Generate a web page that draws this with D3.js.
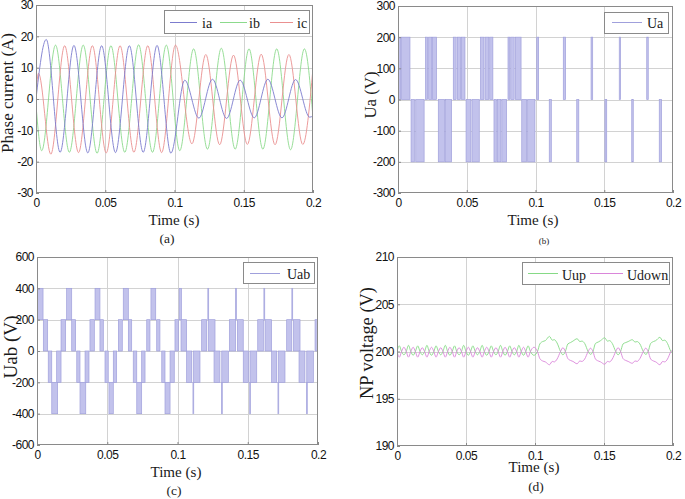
<!DOCTYPE html>
<html><head><meta charset="utf-8">
<script src="https://cdn.jsdelivr.net/npm/d3@7"></script>
<style>
body{margin:0;background:#fff}svg{display:block}
.sans{font-family:"Liberation Sans",Arial,Helvetica,sans-serif}
.serif{font-family:"Liberation Serif","Times New Roman",Times,serif}
</style>
</head><body>
<svg id="c" width="685" height="499"></svg>
<script>
// ---------- data (time in ms) ----------
const xTicks = [0, 50, 100, 150, 200];
const xTickLabels = ["0", "0.05", "0.1", "0.15", "0.2"];
const yTicksA = [-30, -20, -10, 0, 10, 20, 30];
const yTicksB = [-300, -200, -100, 0, 100, 200, 300];
const yTicksC = [-600, -400, -200, 0, 200, 400, 600];
const yTicksD = [190, 195, 200, 205, 210];

// phase currents: [t(ms), A] at start, peaks, troughs, end
const ia = [[0,0],[7.4,19],[17.4,-17],[27.4,17.1],[37.4,-17.2],[47.4,17],[57.4,-17.1],[67.4,17],[77.4,-17],[87.4,17.1],[97.4,-17.3],
  [107.4,6],[117.6,-6.1],[127.4,6.3],[137.6,-6.2],[147.4,6],[157.6,-6],[167.4,6.3],[177.6,-6],[187.4,6.2],[197.6,-5.8],[200,-5.4]];
const ib = [[0,-2],[4.1,-16.5],[14.1,17.2],[24.1,-17],[34.1,17.2],[44.1,-17.3],[54.1,17],[64.1,-17],[74.1,17.3],[84.1,-17],[94.1,17.2],
  [103.8,-16.5],[113.8,16],[123.8,-16],[133.8,16.2],[143.8,-16],[153.8,16],[163.8,-16],[173.8,16],[183.8,-16.2],[193.8,16],[200,-5.9]];
const ic = [[0,2],[1.8,8.2],[10.7,-17.6],[20.7,17],[30.7,-17.1],[40.7,17],[50.7,-17.2],[60.7,17],[70.7,-17],[80.7,17],[90.7,-17.1],[100.7,17.2],
  [112.6,-14.3],[122.6,14.2],[132.6,-14.6],[142.6,14],[152.6,-14.5],[162.6,14.3],[172.6,-14.6],[182.6,14.2],[192.6,-14.5],[200,9.9]];

// phase voltage Ua pulses: [start ms, end ms, level V]
const uaPulses = [
  [0,1.9,200],[2.6,8.7,200],[20,21.5,200],[22.3,24.5,200],[25,28,200],
  [40.2,42.3,200],[43.2,45.5,200],[46.1,48.7,200],[60,62.5,200],[63.3,66,200],[66.7,69,200],
  [80,81.3,200],[82,84.5,200],[85.4,89.5,200],
  [100.9,102.3,200],[120.2,121.9,200],[140.4,141.6,200],[160.9,161.9,200],[180.9,182,200],
  [9.5,11.9,-200],[12.9,19,-200],[29.3,33.8,-200],[34.6,39,-200],[49.5,53,-200],[53.8,59.1,-200],
  [69.8,71.5,-200],[72.3,74.8,-200],[75.5,79,-200],[90,93.5,-200],[94.3,99.6,-200],
  [110,111.5,-200],[130,131.5,-200],[150.5,151.8,-200],[170,171.1,-200],[190,191.7,-200]
];

// line voltage Uab switching bands: [start ms, end ms, low V, high V]
const uabBands = [
  [0.3,4.3,200,400],[21.1,24.7,200,400],[41.3,44.8,200,400],[61.4,65,200,400],[81.1,84.5,200,400],
  [101.2,102.8,200,400],[121.6,122.2,200,400],[141.3,141.9,200,400],[161.5,162.1,200,400],[181.4,182,200,400],
  [4.5,7.6,0,200],[17.1,20.4,0,200],[24.7,27.5,0,200],[37.7,40.8,0,200],[44.8,47.2,0,200],[57.9,60.7,0,200],
  [65,67.4,0,200],[78.1,80.4,0,200],[85.2,87.5,0,200],[98.2,100.6,0,200],[102.5,106.5,0,200],[117.2,120.8,0,200],
  [121.9,126.7,0,200],[136.9,141.4,0,200],[142.6,146.8,0,200],[157.1,161.1,0,200],[162.3,167,0,200],
  [177.7,181.3,0,200],[182.4,187.2,0,200],[197.9,200,0,200],
  [8,10.5,-200,0],[14,17.1,-200,0],[28.3,30.6,-200,0],[34.2,37,-200,0],[48.4,50.7,-200,0],[54.3,56.7,-200,0],
  [68.5,71,-200,0],[74.5,76.9,-200,0],[88.8,91.1,-200,0],[94.7,97.7,-200,0],[106.5,110.1,-200,0],[111.2,116,-200,0],
  [126,130.2,-200,0],[131.5,136.2,-200,0],[146.8,150.4,-200,0],[151.6,156.4,-200,0],[167,170.6,-200,0],
  [171.7,176.5,-200,0],[186.5,190.7,-200,0],[192,196.7,-200,0],
  [10.5,14.7,-400,-200],[30.6,34.7,-400,-200],[51.2,54.3,-400,-200],[71,74.5,-400,-200],[91.1,94.7,-400,-200],
  [111,111.5,-400,-200],[131.3,131.8,-400,-200],[151.4,151.9,-400,-200],[171.5,172,-400,-200],[191.8,192.3,-400,-200]
];

// neutral-point capacitor voltages: [t ms, V]
const uup = [[0,200],[1.7,200.6],[3.3,200],[5,199.65],[6.7,200],[8.3,200.65],[10,200],[11.7,199.6],[13.3,200],[15,200.6],[16.7,200],
  [18.3,199.65],[20,200],[21.7,200.65],[23.3,200],[25,199.6],[26.7,200],[28.3,200.6],[30,200],[31.7,199.65],[33.3,200],[35,200.65],
  [36.7,200],[38.3,199.6],[40,200],[41.7,200.6],[43.3,200],[45,199.65],[46.7,200],[48.3,200.65],[50,200],[51.7,199.6],[53.3,200],
  [55,200.6],[56.7,200],[58.3,199.65],[60,200],[61.7,200.65],[63.3,200],[65,199.6],[66.7,200],[68.3,200.6],[70,200],[71.7,199.65],
  [73.3,200],[75,200.65],[76.7,200],[78.3,199.6],[80,200],[81.7,200.6],[83.3,200],[85,199.65],[86.7,200],[88.3,200.65],[90,200],
  [91.7,199.6],[93.3,200],[95,200.6],[96.7,200],[99.2,199.6],[101.8,200],
  [103.5,200.8],[105.5,201.05],[107.5,201.15],[110.5,201.6],[112.5,201.2],[114,201.25],[116,200.9],[118.5,200],[120.2,199.65],[122,200],
  [123.8,200.8],[125.8,200.95],[127.5,201.1],[130.5,201.35],[132.5,201.05],[134,201.1],[136,200.85],[138.5,200],[140.2,199.7],[142,200],
  [143.8,200.85],[145.8,201.0],[147.5,201.15],[150.5,201.45],[152.5,201.1],[154,201.15],[156,200.85],[158.5,200],[160.2,199.65],[162,200],
  [163.8,200.8],[165.8,200.95],[167.5,201.05],[170.5,201.25],[172.5,201.0],[174,201.05],[176,200.8],[178.5,200],[180.2,199.7],[182,200],
  [183.8,200.85],[185.8,201.05],[187.5,201.15],[190.5,201.5],[192.5,201.15],[194,201.2],[196,200.85],[198.5,200],[200,199.8]];
const udown = [[0,200],[1.7,199.4],[3.3,200],[5,200.45],[6.7,200],[8.3,199.4],[10,200],[11.7,200.45],[13.3,200],[15,199.4],[16.7,200],
  [18.3,200.4],[20,200],[21.7,199.4],[23.3,200],[25,200.45],[26.7,200],[28.3,199.4],[30,200],[31.7,200.4],[33.3,200],[35,199.4],
  [36.7,200],[38.3,200.45],[40,200],[41.7,199.4],[43.3,200],[45,200.4],[46.7,200],[48.3,199.4],[50,200],[51.7,200.45],[53.3,200],
  [55,199.4],[56.7,200],[58.3,200.4],[60,200],[61.7,199.4],[63.3,200],[65,200.45],[66.7,200],[68.3,199.4],[70,200],[71.7,200.4],
  [73.3,200],[75,199.4],[76.7,200],[78.3,200.45],[80,200],[81.7,199.4],[83.3,200],[85,200.4],[86.7,200],[88.3,199.4],[90,200],
  [91.7,200.45],[93.3,200],[95,199.4],[96.7,200],[99.2,200.45],[101.8,200],
  [103.5,199.25],[105.5,199.0],[107.5,198.9],[110.5,198.6],[112.5,198.95],[114,198.9],[116,199.2],[118.5,200],[120.2,200.4],[122,200],
  [123.8,199.25],[125.8,199.05],[127.5,198.95],[130.5,198.7],[132.5,199.0],[134,198.95],[136,199.2],[138.5,200],[140.2,200.35],[142,200],
  [143.8,199.2],[145.8,199.0],[147.5,198.9],[150.5,198.65],[152.5,198.95],[154,198.9],[156,199.2],[158.5,200],[160.2,200.4],[162,200],
  [163.8,199.25],[165.8,199.05],[167.5,198.95],[170.5,198.75],[172.5,199.0],[174,198.95],[176,199.25],[178.5,200],[180.2,200.35],[182,200],
  [183.8,199.2],[185.8,199.0],[187.5,198.9],[190.5,198.6],[192.5,198.95],[194,198.9],[196,199.2],[198.5,200],[200,200.2]];

// ---------- drawing ----------
const svg = d3.select("#c");
let clipId = 0;

function label(cls, x, y, txt, fs, len, rot) {
  const t = svg.append("text").attr("class", cls).attr("text-anchor", "middle")
    .style("font-size", fs + "px").attr("fill", "#1a1a1a").text(txt);
  if (rot) t.attr("transform", `translate(${x},${y}) rotate(-90)`); else t.attr("x", x).attr("y", y);
  if (len) t.attr("textLength", len).attr("lengthAdjust", "spacingAndGlyphs");
  return t;
}

function panel(o) {
  const x = d3.scaleLinear().domain([0, 200]).range([o.l, o.r]);
  const y = d3.scaleLinear().domain(o.yd).range([o.b, o.t]);
  const g = svg.append("g");
  g.append("rect").attr("x", o.l).attr("y", o.t).attr("width", o.r - o.l).attr("height", o.b - o.t).attr("fill", "#fff");
  g.selectAll(null).data(xTicks.slice(1, -1)).join("line")
    .attr("x1", d => Math.round(x(d)) + 0.5).attr("x2", d => Math.round(x(d)) + 0.5).attr("y1", o.t).attr("y2", o.b)
    .attr("stroke", "#d2d2d2").attr("stroke-width", 1);
  g.selectAll(null).data(o.yt.slice(1, -1)).join("line")
    .attr("y1", d => Math.round(y(d)) + 0.5).attr("y2", d => Math.round(y(d)) + 0.5).attr("x1", o.l).attr("x2", o.r)
    .attr("stroke", "#d2d2d2").attr("stroke-width", 1);
  const id = "clip" + (clipId++);
  svg.append("clipPath").attr("id", id).append("rect")
    .attr("x", o.l).attr("y", o.t).attr("width", o.r - o.l).attr("height", o.b - o.t);
  const plot = g.append("g").attr("clip-path", `url(#${id})`);
  const frame = g.append("g");
  const ax = frame.append("g").attr("transform", `translate(0,${o.b})`)
    .call(d3.axisBottom(x).tickValues(xTicks).tickFormat((d, i) => xTickLabels[i]).tickSizeInner(-3).tickSizeOuter(0).tickPadding(5));
  const ay = frame.append("g").attr("transform", `translate(${o.l},0)`)
    .call(d3.axisLeft(y).tickValues(o.yt).tickFormat(d => String(d)).tickSizeInner(-3).tickSizeOuter(0).tickPadding(o.yPad || 3));
  [ax, ay].forEach(a => {
    a.attr("font-family", null).attr("font-size", null);
    a.select(".domain").remove();
    a.selectAll(".tick line").attr("stroke", "#888");
    a.selectAll("text").attr("class", "sans").style("font-size", "12px").style("letter-spacing", "-0.5px").attr("fill", "#111");
  });
  frame.append("rect").attr("x", o.l + 0.5).attr("y", o.t + 0.5).attr("width", o.r - o.l - 1).attr("height", o.b - o.t - 1)
    .attr("fill", "none").attr("stroke", "#8a8a8a");
  label("serif", o.ylx, o.yly, o.ylabel, o.ylfs, o.yllen, true);
  label("serif", o.xlx, o.xly, "Time (s)", 15, 51, false);
  label("serif", o.cx, o.cy, o.cap, o.cfs, null, false);
  return { x, y, g, plot, frame };
}

function legend(box, items) {
  const lg = svg.append("g");
  lg.append("rect").attr("x", box[0] + 0.5).attr("y", box[1] + 0.5).attr("width", box[2]).attr("height", box[3])
    .attr("fill", "#fff").attr("stroke", "#8a8a8a");
  items.forEach(it => {
    lg.append("line").attr("x1", it.x1).attr("x2", it.x2).attr("y1", it.ly + 0.5).attr("y2", it.ly + 0.5)
      .attr("stroke", it.color).attr("stroke-width", 1);
    lg.append("text").attr("class", "serif").attr("x", it.tx).attr("y", it.ty).style("font-size", "14px")
      .attr("fill", "#1a1a1a").text(it.label);
  });
}

const curve = d3.curveMonotoneX;
const cA = "#7c7cce", cB = "#8cda8c", cC = "#ea9090";
const cU = "#c2c2ec", cUedge = "#a0a0dc";
const cUp = "#86da86", cDown = "#da86da";

// (a)
const A = panel({ l: 36, r: 313, t: 5, b: 193, yd: [-30, 30], yt: yTicksA, ylabel: "Phase current (A)", ylfs: 16.5, yllen: 120,
  ylx: 13, yly: 93, xlx: 174, xly: 225, cap: "(a)", cx: 167, cy: 243, cfs: 13.5 });
const lineA = d3.line().x(d => A.x(d[0])).y(d => A.y(d[1])).curve(curve);
[[ib, cB], [ic, cC], [ia, cA]].forEach(([s, c]) =>
  A.plot.append("path").attr("d", lineA(s)).attr("fill", "none").attr("stroke", c).attr("stroke-width", 0.9));
legend([164, 10, 145, 23], [
  { x1: 170, x2: 197, ly: 22, tx: 202, ty: 28, color: cA, label: "ia" },
  { x1: 220, x2: 247, ly: 22, tx: 249, ty: 28, color: cB, label: "ib" },
  { x1: 270, x2: 293, ly: 22, tx: 297, ty: 28, color: cC, label: "ic" }]);

// (b)
const B = panel({ l: 398, r: 673, t: 6, b: 193, yd: [-300, 300], yt: yTicksB, ylabel: "Ua (V)", ylfs: 17, yllen: 47,
  ylx: 376, yly: 95, xlx: 533, xly: 225, cap: "(b)", cx: 544, cy: 244, cfs: 9 });
B.plot.selectAll(null).data(uaPulses).join("rect")
  .attr("x", d => B.x(d[0])).attr("width", d => Math.max(0.8, B.x(d[1]) - B.x(d[0])))
  .attr("y", d => Math.min(B.y(0), B.y(d[2]))).attr("height", d => Math.abs(B.y(d[2]) - B.y(0)))
  .attr("fill", cU).attr("stroke", cUedge).attr("stroke-width", 0.7);
legend([604, 12, 64, 21], [{ x1: 612, x2: 642, ly: 22, tx: 647, ty: 28, color: cUedge, label: "Ua" }]);

// (c)
const C = panel({ l: 37, r: 318, t: 257, b: 445, yd: [-600, 600], yt: yTicksC, ylabel: "Uab (V)", ylfs: 18, yllen: 63,
  ylx: 17, yly: 347, xlx: 176, xly: 477, cap: "(c)", cx: 174, cy: 495, cfs: 13.5 });
C.plot.selectAll(null).data(uabBands).join("rect")
  .attr("x", d => C.x(d[0])).attr("width", d => Math.max(0.8, C.x(d[1]) - C.x(d[0])))
  .attr("y", d => C.y(d[3])).attr("height", d => C.y(d[2]) - C.y(d[3]))
  .attr("fill", cU).attr("stroke", cUedge).attr("stroke-width", 0.7);
legend([243, 262, 71, 21], [{ x1: 250, x2: 280, ly: 273, tx: 287, ty: 279, color: cUedge, label: "Uab" }]);

// (d)
const D = panel({ l: 397, r: 673, t: 257, b: 446, yd: [190, 210], yt: yTicksD, ylabel: "NP voltage (V)", ylfs: 18, yllen: 112,
  ylx: 373, yly: 343, xlx: 534, xly: 472, cap: "(d)", cx: 536, cy: 491, cfs: 13.5 });
const lineD = d3.line().x(d => D.x(d[0])).y(d => D.y(d[1])).curve(curve);
D.plot.append("path").attr("d", lineD(uup)).attr("fill", "none").attr("stroke", cUp).attr("stroke-width", 0.9);
D.plot.append("path").attr("d", lineD(udown)).attr("fill", "none").attr("stroke", cDown).attr("stroke-width", 0.9);
legend([522, 262, 147, 22], [
  { x1: 528, x2: 558, ly: 273, tx: 562, ty: 280, color: cUp, label: "Uup" },
  { x1: 590, x2: 623, ly: 273, tx: 627, ty: 280, color: cDown, label: "Udown" }]);
</script>
</body></html>
